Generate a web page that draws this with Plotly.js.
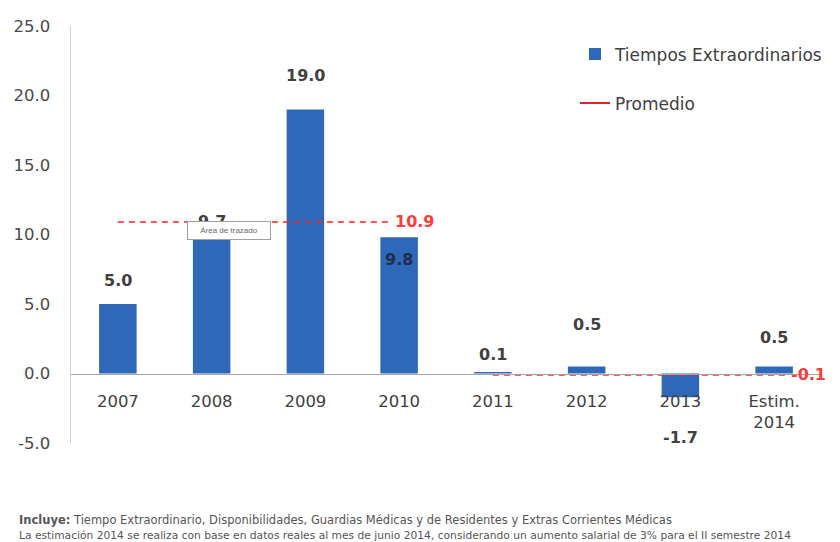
<!DOCTYPE html>
<html>
<head>
<meta charset="utf-8">
<script src="https://cdn.plot.ly/plotly-3.0.1.min.js"></script>
<style>html,body{margin:0;padding:0;background:#fff;}#chart{width:840px;height:542px;}</style>
</head>
<body>
<div id="chart"></div>
<script>
const categories = ['2007', '2008', '2009', '2010', '2011', '2012', '2013', 'Estim.<br>2014'];
const values = [5.0, 9.7, 19.0, 9.8, 0.1, 0.5, -1.7, 0.5];
const valueLabels = ['5.0', '9.7', '19.0', '9.8', '0.1', '0.5', '-1.7', '0.5'];
const promedioValues = [10.9, -0.1];
const promedioLabels = ['10.9', '-0.1'];
const yTickVals = [-5, 0, 5, 10, 15, 20, 25];
const yTickText = ['-5.0', '0.0', '5.0', '10.0', '15.0', '20.0', '25.0'];

const idx = categories.map((c, i) => i);
const FONT = 'DejaVu Sans, Liberation Sans, sans-serif';

// label offsets (pixels) as in the reference picture
const labelShift = [24, 17, 34, -22, 18, 42, -40, 29];
const labelColor = ['#404040', '#404040', '#404040', '#1F2D4D', '#404040', '#404040', '#404040', '#404040'];

const bars = {
  type: 'bar', x: idx, y: values, name: 'Tiempos Extraordinarios',
  width: 0.4, marker: {color: '#2F68B8', line: {width: 0}},
  legendgroup: 'a', hoverinfo: 'skip'
};
const prom = {
  type: 'scatter', mode: 'lines',
  x: [0, 2.92, null, 4, 7.16],
  y: [promedioValues[0], promedioValues[0], null, promedioValues[1], promedioValues[1]],
  line: {color: '#FF2020', width: 1.5, dash: '6px,5px'},
  showlegend: false, hoverinfo: 'skip', connectgaps: false
};
const promLegend = {
  type: 'scatter', mode: 'lines', x: [null], y: [null], name: 'Promedio',
  line: {color: '#E0202A', width: 2}, legendgroup: 'b'
};

const annotations = [];
values.forEach((v, i) => {
  annotations.push({
    x: i, y: v, xref: 'x', yref: 'y', text: '<b>' + valueLabels[i] + '</b>',
    showarrow: false, yshift: labelShift[i],
    font: {family: FONT, size: 16, color: labelColor[i]}
  });
});
annotations.push({x: 3, y: promedioValues[0], xref: 'x', yref: 'y', text: '<b>' + promedioLabels[0] + '</b>',
  showarrow: false, xanchor: 'left', xshift: -6, font: {family: FONT, size: 16, color: '#FF3B3B'}});
annotations.push({x: 7.16, y: promedioValues[1], xref: 'x', yref: 'y', text: '<b>' + promedioLabels[1] + '</b>',
  showarrow: false, xanchor: 'left', xshift: 0, font: {family: FONT, size: 16, color: '#FF3B3B'}});
annotations.push({x: 1.19, y: 10.32, xref: 'x', yref: 'y', text: 'Área de trazado',
  showarrow: false, bgcolor: '#FFFFFF', bordercolor: '#A0A0A0', borderwidth: 1, borderpad: 1,
  width: 80, height: 15,
  font: {family: 'Liberation Sans, sans-serif', size: 8, color: '#666'}});
annotations.push({x: -0.072, y: -0.185, xref: 'paper', yref: 'paper', xanchor: 'left', yanchor: 'middle',
  text: '<b>Incluye:</b> Tiempo Extraordinario, Disponibilidades, Guardias Médicas y de Residentes y Extras Corrientes Médicas',
  showarrow: false, align: 'left', font: {family: 'DejaVu Sans, sans-serif', size: 11.5, color: '#555'}});
annotations.push({x: -0.072, y: -0.221, xref: 'paper', yref: 'paper', xanchor: 'left', yanchor: 'middle',
  text: 'La estimación 2014 se realiza con base en datos reales al mes de junio 2014, considerando un aumento salarial de 3% para el II semestre 2014',
  showarrow: false, align: 'left', font: {family: 'DejaVu Sans, sans-serif', size: 10.7, color: '#555'}});

const layout = {
  width: 840, height: 542,
  margin: {l: 71, r: 15, t: 26, b: 99},
  paper_bgcolor: '#FFFFFF', plot_bgcolor: '#FFFFFF',
  showlegend: true,
  legend: {x: 0.672, y: 0.975, xanchor: 'left', yanchor: 'top', tracegroupgap: 24,
    font: {family: FONT, size: 17, color: '#404040'}, itemwidth: 30, bgcolor: 'rgba(0,0,0,0)'},
  xaxis: {
    range: [-0.5, 7.5], tickvals: idx, ticktext: categories, tickmode: 'array',
    anchor: 'free', position: 0.1655, showline: true, linecolor: '#A6A6A6', linewidth: 1,
    showgrid: false, zeroline: false, ticks: '', ticklabelstandoff: 12,
    tickfont: {family: FONT, size: 16.5, color: '#404040'}, fixedrange: true
  },
  yaxis: {
    range: [-5, 25], tickvals: yTickVals, ticktext: yTickText, tickmode: 'array',
    showline: true, linecolor: '#D0D0D0', linewidth: 1.5, showgrid: false, zeroline: false,
    ticks: '', ticklabelstandoff: 16,
    tickfont: {family: FONT, size: 16.5, color: '#4A4A4A'}, fixedrange: true
  },
  annotations: annotations
};

Plotly.newPlot('chart', [bars, prom, promLegend], layout, {displayModeBar: false, staticPlot: true});
</script>
</body>
</html>
